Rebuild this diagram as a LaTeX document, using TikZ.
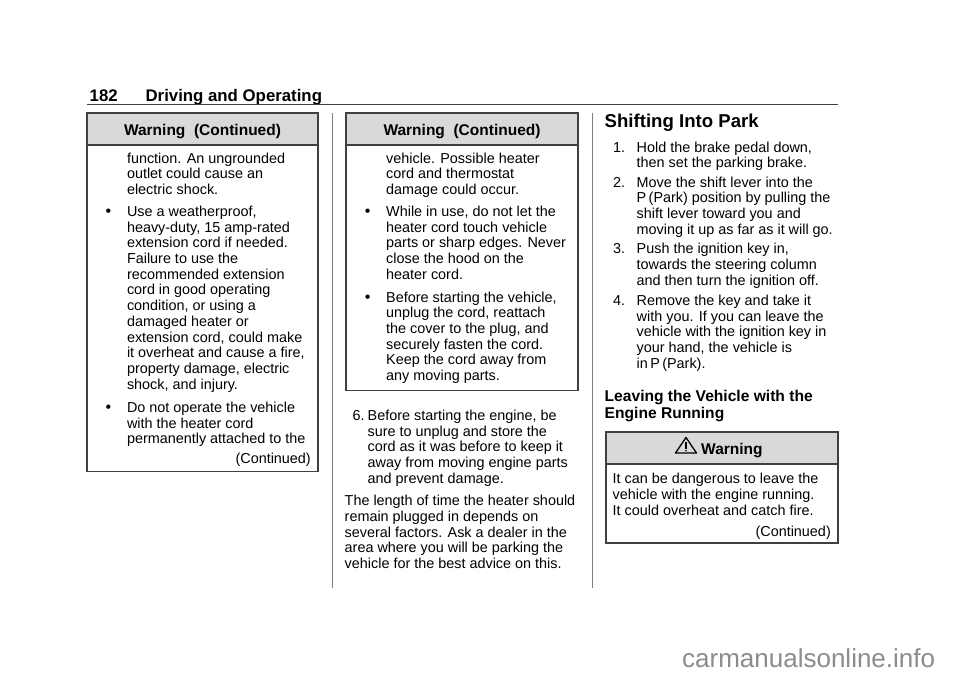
\documentclass[tikz,border=0pt]{standalone}
\usepackage{fontspec}
\setmainfont{Liberation Sans}
\AtBeginDocument{\lineskiplimit=-50pt\relax}

\definecolor{headgray}{HTML}{D9D9D9}
\definecolor{boxgray}{HTML}{404040}
\definecolor{markgray}{HTML}{8C8C8C}

% multi-line nodes sit on the baseline of their last line
\tikzset{
    body/.style={anchor=base west, inner sep=0pt, align=left, font=\fontsize{14.4}{15.7}\selectfont},
    bodyright/.style={anchor=base east, inner sep=0pt, font=\fontsize{14.4}{15.7}\selectfont},
    dot/.style={anchor=base, inner sep=0pt, font=\fontsize{16}{16}\selectfont},
    warnhead/.style={anchor=base, inner sep=0pt, font=\bfseries\fontsize{15.5}{17}\selectfont},
    subhead/.style={anchor=base west, inner sep=0pt, align=left, font=\bfseries\fontsize{15.6}{17}\selectfont},
    boxline/.style={draw=boxgray, line width=1.2pt},
}

\begin{document}
\begin{tikzpicture}[x=1pt, y=-1pt]
    \fill[white] (0, 0) rectangle (960, 678);

    % page header
    \node[anchor=base west, inner sep=0pt, font=\bfseries\fontsize{16.8}{18}\selectfont] (pagenum) at (89.5, 101) {182};
    \node[anchor=base west, inner sep=0pt, font=\bfseries\fontsize{16.8}{18}\selectfont] (chapter) at (145.4, 101) {Driving and Operating};
    \draw[boxgray, line width=1pt] (87, 104.3) -- (838, 104.3);

    % column rules
    \draw[gray, line width=1pt] (332.5, 113) -- (332.5, 588);
    \draw[gray, line width=1pt] (592, 113) -- (592, 588);

    % left warning box
    \draw[boxline, fill=headgray] (87, 113) rectangle (318, 145);
    \draw[boxline] (87, 113) rectangle (318, 471.5);
    \node[warnhead] (warnA) at (202.5, 135) {Warning\ \ (Continued)};
    \node[body] (a1) at (126.8, 194.4) {function. An ungrounded\\outlet could cause an\\electric shock.};
    \node[dot] (da2) at (108.5, 216.4) {\textbullet};
    \node[body] (a2) at (126.8, 389.1) {Use a weatherproof,\\heavy-duty, 15 amp-rated\\extension cord if needed.\\Failure to use the\\recommended extension\\cord in good operating\\condition, or using a\\damaged heater or\\extension cord, could make\\it overheat and cause a fire,\\property damage, electric\\shock, and injury.};
    \node[dot] (da3) at (108.5, 412.4) {\textbullet};
    \node[body] (a3) at (126.8, 443.8) {Do not operate the vehicle\\with the heater cord\\permanently attached to the};
    \node[bodyright] (contA) at (311, 463.7) {(Continued)};

    % middle warning box
    \draw[boxline, fill=headgray] (346, 113) rectangle (578, 145);
    \draw[boxline] (346, 113) rectangle (578, 390.5);
    \node[warnhead] (warnB) at (462, 135) {Warning\ \ (Continued)};
    \node[body] (b1) at (386, 194.4) {vehicle. Possible heater\\cord and thermostat\\damage could occur.};
    \node[dot] (db2) at (367.7, 216.4) {\textbullet};
    \node[body] (b2) at (386, 279.2) {While in use, do not let the\\heater cord touch vehicle\\parts or sharp edges. Never\\close the hood on the\\heater cord.};
    \node[dot] (db3) at (367.7, 302) {\textbullet};
    \node[body] (b3) at (386, 380.5) {Before starting the vehicle,\\unplug the cord, reattach\\the cover to the plug, and\\securely fasten the cord.\\Keep the cord away from\\any moving parts.};

    % middle column text
    \node[body] (n6) at (352.3, 420.4) {6.};
    \node[body] (b4) at (367.5, 483.2) {Before starting the engine, be\\sure to unplug and store the\\cord as it was before to keep it\\away from moving engine parts\\and prevent damage.};
    \node[body] (b5) at (344.5, 568.5) {The length of time the heater should\\remain plugged in depends on\\several factors. Ask a dealer in the\\area where you will be parking the\\vehicle for the best advice on this.};

    % right column
    \node[anchor=base west, inner sep=0pt, font=\bfseries\fontsize{18.6}{20}\selectfont] (park) at (604.5, 127) {Shifting Into Park};
    \node[body] (n1) at (613, 152) {1.};
    \node[body] (c1) at (636.5, 167.7) {Hold the brake pedal down,\\then set the parking brake.};
    \node[body] (n2) at (613, 187) {2.};
    \node[body] (c2) at (636.5, 234.1) {Move the shift lever into the\\P\,(Park) position by pulling the\\shift lever toward you and\\moving it up as far as it will go.};
    \node[body] (n3) at (613, 253.7) {3.};
    \node[body] (c3) at (636.5, 285.1) {Push the ignition key in,\\towards the steering column\\and then turn the ignition off.};
    \node[body] (n4) at (613, 305.4) {4.};
    \node[body] (c4) at (636.5, 368.2) {Remove the key and take it\\with you. If you can leave the\\vehicle with the ignition key in\\your hand, the vehicle is\\in\,P\,(Park).};
    \node[subhead] (leaving) at (604.5, 418) {Leaving the Vehicle with the\\Engine Running};

    % right warning box
    \draw[boxline, fill=headgray] (606, 432) rectangle (838, 464);
    \draw[boxline] (606, 432) rectangle (838, 543);
    \draw[black, line width=1.3pt, line join=round] (675.5, 453) -- (686, 437.5) -- (696.5, 453) -- cycle;
    \draw[black, line width=1.4pt] (686, 442) -- (686, 448.5);
    \fill[black] (686, 450.8) circle (0.9);
    \node[warnhead, anchor=base west] (warnC) at (701, 454) {Warning};
    \node[body] (c5) at (612.5, 515.1) {It can be dangerous to leave the\\vehicle with the engine running.\\It could overheat and catch fire.};
    \node[bodyright] (contC) at (831, 536) {(Continued)};

    % watermark
    \node[anchor=base west, inner sep=0pt, text=markgray, font=\fontsize{26}{28}\selectfont] (site) at (682, 667.2) {carmanualsonline.info};
\end{tikzpicture}
\end{document}
